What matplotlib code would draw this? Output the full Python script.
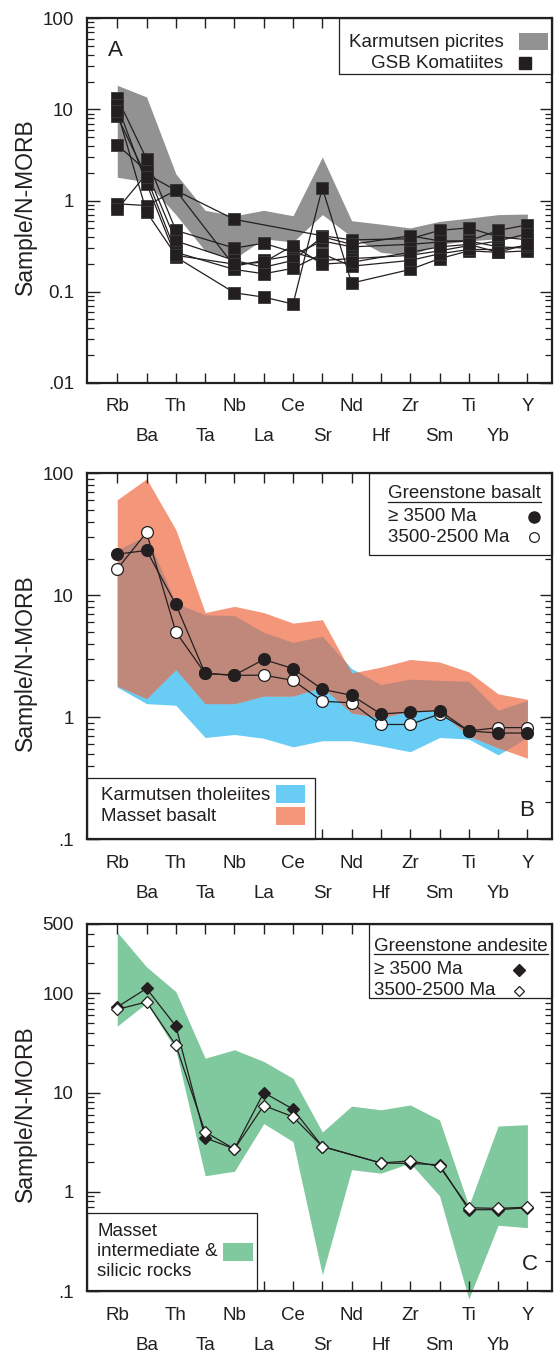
import numpy as np
import matplotlib
matplotlib.use('Agg')
import matplotlib.pyplot as plt
from matplotlib.patches import Rectangle
from matplotlib.lines import Line2D
from matplotlib.ticker import LogLocator, FixedLocator, NullFormatter

plt.rcParams['font.family'] = ['Liberation Sans', 'DejaVu Sans']

# ---------------- data ----------------
elements = ['Rb', 'Ba', 'Th', 'Ta', 'Nb', 'La', 'Ce', 'Sr', 'Nd', 'Hf', 'Zr', 'Sm', 'Ti', 'Yb', 'Y']
nan = np.nan

# Panel A
picrite_upper = [18.4, 13.7, 1.96, 0.78, 0.68, 0.78, 0.68, 3.0, 0.60, 0.55, 0.50, 0.59, 0.64, 0.70, 0.71]
picrite_lower = [1.8, 1.6, 0.70, 0.28, 0.23, 0.38, 0.35, 0.70, 0.40, 0.27, 0.25, 0.33, 0.36, 0.38, 0.40]
komatiite_1 = [0.92, 0.88, 1.29, nan, 0.62, nan, nan, 0.41, 0.37, nan, 0.38, 0.47, 0.50, 0.40, 0.37]
komatiite_2 = [0.80, 1.96, 1.29, nan, 0.19, 0.22, 0.25, 0.36, 0.31, nan, 0.33, 0.35, 0.36, 0.47, 0.54]
komatiite_3 = [13.4, 2.86, 0.47, nan, 0.30, 0.34, 0.27, 0.22, 0.23, nan, 0.25, 0.28, 0.32, 0.36, 0.43]
komatiite_4 = [4.1, 2.1, 0.36, nan, 0.22, 0.185, 0.22, 0.40, 0.33, nan, 0.41, 0.36, 0.36, 0.31, 0.30]
komatiite_5 = [11.1, 1.53, 0.24, nan, 0.097, 0.087, 0.073, 1.38, 0.124, nan, 0.175, 0.23, 0.28, 0.27, 0.28]
komatiite_6 = [8.4, 1.8, 0.27, nan, 0.175, 0.157, 0.18, 0.26, 0.19, nan, 0.22, 0.26, 0.29, 0.29, 0.32]
komatiite_7 = [9.5, 0.75, 0.25, nan, 0.20, 0.21, 0.32, 0.20, 0.21, nan, 0.27, 0.31, 0.33, 0.27, 0.33]

# Panel B
tholeiite_upper = [23.5, 31.0, 8.6, 6.9, 6.8, 4.95, 4.1, 4.6, 2.5, 1.85, 2.05, 2.0, 1.97, 1.14, 1.37]
tholeiite_lower = [1.76, 1.29, 1.25, 0.68, 0.72, 0.67, 0.57, 0.64, 0.64, 0.58, 0.52, 0.68, 0.66, 0.49, 0.68]
masset_basalt_upper = [60.7, 90.0, 34.5, 7.2, 8.1, 7.2, 5.9, 6.3, 2.3, 2.57, 2.97, 2.83, 2.35, 1.55, 1.40]
masset_basalt_lower = [1.8, 1.42, 2.46, 1.29, 1.29, 1.49, 1.49, 1.76, 1.08, 0.99, 1.12, 1.12, 0.70, 0.56, 0.46]
basalt_old = [21.7, 23.3, 8.4, 2.28, 2.21, 2.97, 2.5, 1.69, 1.51, 1.06, 1.10, 1.13, 0.77, 0.74, 0.74]
basalt_young = [16.4, 32.7, 5.0, 2.28, 2.2, 2.21, 2.0, 1.35, 1.31, 0.87, 0.87, 1.06, 0.77, 0.82, 0.82]

# Panel C
masset_int_upper = [413, 185, 104, 22.2, 27, 20.6, 13.9, 4.0, 7.3, 6.7, 7.5, 5.3, 0.72, 4.6, 4.75]
masset_int_lower = [46.7, 80, 27, 1.45, 1.61, 4.87, 3.2, 0.146, 1.67, 1.54, 1.95, 0.91, 0.083, 0.46, 0.435]
andesite_old = [72.8, 112, 46.7, 3.5, 2.7, 10.0, 6.8, 2.86, nan, 1.95, 1.93, 1.87, 0.66, 0.66, 0.69]
andesite_young = [68.8, 82, 30, 4.0, 2.7, 7.4, 5.7, 2.86, nan, 1.95, 2.05, 1.80, 0.69, 0.68, 0.70]

# ---------------- styling ----------------
W, H = 554, 1355
fig = plt.figure(figsize=(W / 100, H / 100), dpi=100)
INK = '#231f20'
GRAY = '#929292'
BLUE = '#68ccf4'
SALMON = '#f4967a'
BROWN = '#c0887a'
GREEN = '#80c89d'
FS = 13.5

def fx(x):
    return x / W

def fy(y):
    return 1 - y / H

xpos = np.arange(len(elements))

def make_axes(top, bottom, ylim, yticks, ylabels):
    ax = fig.add_axes([fx(86.5), fy(bottom), fx(552) - fx(86.5), (bottom - top) / H])
    ax.set_yscale('log')
    ax.set_ylim(*ylim)
    ax.set_xlim(-1.05, 14.84)
    ax.xaxis.set_major_locator(FixedLocator(xpos))
    ax.xaxis.set_ticklabels([])
    ax.yaxis.set_major_locator(FixedLocator(yticks))
    ax.yaxis.set_ticklabels(ylabels)
    ax.yaxis.set_minor_locator(LogLocator(base=10, subs=np.arange(2, 10)))
    ax.yaxis.set_minor_formatter(NullFormatter())
    ax.tick_params(axis='x', which='both', direction='in', top=True, bottom=True,
                   length=7.5, width=1.0, color=INK)
    ax.tick_params(axis='y', which='major', direction='in', left=True, right=True,
                   length=9, width=1.0, pad=9, labelsize=FS, labelcolor=INK, color=INK)
    ax.tick_params(axis='y', which='minor', direction='in', left=True, right=True,
                   length=5, width=0.9, color=INK)
    for s in ax.spines.values():
        s.set_linewidth(1.6)
        s.set_color(INK)
    for i, el in enumerate(elements):
        off = -24 if i % 2 == 0 else -54
        ax.annotate(el, xy=(i, 0), xycoords=('data', 'axes fraction'),
                    xytext=(0, off * 0.72), textcoords='offset points',
                    ha='center', va='center', fontsize=FS, color=INK,
                    annotation_clip=False)
    fig.text(fx(25), fy((top + bottom) / 2 + 6.5), 'Sample/N-MORB', rotation=90,
             ha='center', va='center', fontsize=16.5, color=INK)
    return ax

def box(ax, x0, y0, x1, y1):
    ax.add_patch(Rectangle((fx(x0), fy(y1)), fx(x1) - fx(x0), (y1 - y0) / H,
                           transform=fig.transFigure, facecolor='white', edgecolor=INK,
                           linewidth=0.9, zorder=2.2, clip_on=False))

def swatch(ax, x0, y0, x1, y1, color):
    ax.add_patch(Rectangle((fx(x0), fy(y1)), fx(x1) - fx(x0), (y1 - y0) / H,
                           transform=fig.transFigure, facecolor=color, edgecolor='none',
                           zorder=3, clip_on=False))

def label(ax, x, y, s, ha='left', size=FS):
    return ax.text(fx(x), fy(y), s, transform=fig.transFigure, ha=ha, va='center',
                   fontsize=size, color=INK, zorder=3)

def legmarker(ax, x, y, **kw):
    ax.add_line(Line2D([fx(x)], [fy(y)], transform=fig.transFigure, zorder=3,
                       clip_on=False, linestyle='none', **kw))

def series(ax, vals, **kw):
    v = np.asarray(vals, dtype=float)
    m = ~np.isnan(v)
    ax.plot(xpos[m], v[m], **kw)

xg = np.linspace(0, len(elements) - 1, 2801)

def logi(v):
    return 10 ** np.interp(xg, xpos, np.log10(v))

underlines = []

# ---------------- Panel A ----------------
axA = make_axes(18.3, 382.7, (0.01, 100), [0.01, 0.1, 1, 10, 100],
                ['.01', '0.1', '1', '10', '100'])
axA.fill_between(xpos, picrite_lower, picrite_upper, color=GRAY, lw=0, zorder=1)
for k in [komatiite_1, komatiite_2, komatiite_3, komatiite_4, komatiite_5,
          komatiite_6, komatiite_7]:
    series(axA, k, color=INK, lw=0.9, marker='s', ms=8.5, mfc=INK, mec='#3a3a3a',
           mew=0.6, zorder=4)
label(axA, 115.5, 50, 'A', ha='center', size=16)
box(axA, 339, 18.3, 552, 74)
label(axA, 503.5, 42.7, 'Karmutsen picrites', ha='right')
label(axA, 503.5, 63.3, 'GSB Komatiites', ha='right')
swatch(axA, 518.7, 33, 547.7, 50, GRAY)
legmarker(axA, 524.5, 63.3, marker='s', ms=8, mfc=INK, mec=INK)

# ---------------- Panel B ----------------
axB = make_axes(473.3, 839, (0.1, 100), [0.1, 1, 10, 100], ['.1', '1', '10', '100'])
axB.fill_between(xpos, tholeiite_lower, tholeiite_upper, color=BLUE, lw=0, zorder=1)
axB.fill_between(xpos, masset_basalt_lower, masset_basalt_upper, color=SALMON, lw=0, zorder=1.1)
lo = np.maximum(logi(tholeiite_lower), logi(masset_basalt_lower))
hi = np.minimum(logi(tholeiite_upper), logi(masset_basalt_upper))
axB.fill_between(xg, lo, hi, where=hi > lo, color=BROWN, lw=0, zorder=1.2, interpolate=True)
series(axB, basalt_young, color=INK, lw=0.9, marker='o', ms=8.5, mfc='white', mec=INK,
       mew=0.9, zorder=4)
series(axB, basalt_old, color=INK, lw=0.9, marker='o', ms=8.5, mfc=INK, mec=INK,
       mew=0.9, zorder=5)
label(axB, 526.5, 810, 'B', ha='center', size=16)
box(axB, 369, 473.3, 552, 555)
underlines.append((label(axB, 388, 493.3, 'Greenstone basalt'), 501.7))
label(axB, 388, 516.7, '\u2265 3500 Ma')
label(axB, 388, 537.3, '3500-2500 Ma')
legmarker(axB, 533.6, 516.7, marker='o', ms=8, mfc=INK, mec=INK)
legmarker(axB, 533.6, 537.3, marker='o', ms=7, mfc='white', mec=INK, mew=0.9)
box(axB, 86.5, 778.3, 314.5, 839)
label(axB, 100.7, 796, 'Karmutsen tholeiites')
label(axB, 100.7, 816.7, 'Masset basalt')
swatch(axB, 275.6, 785, 304.6, 803.3, BLUE)
swatch(axB, 275.6, 806.7, 304.6, 825, SALMON)

# ---------------- Panel C ----------------
axC = make_axes(924, 1291, (0.1, 500), [0.1, 1, 10, 100, 500],
                ['.1', '1', '10', '100', '500'])
axC.fill_between(xpos, masset_int_lower, masset_int_upper, color=GREEN, lw=0, zorder=1,
                 clip_on=False)
series(axC, andesite_old, color=INK, lw=0.9, marker='D', ms=6.2, mfc=INK, mec=INK,
       mew=0.9, zorder=4)
series(axC, andesite_young, color=INK, lw=0.9, marker='D', ms=6.2, mfc='white', mec=INK,
       mew=0.9, zorder=5)
label(axC, 530, 1265, 'C', ha='center', size=16)
box(axC, 368.6, 924, 552, 998.3)
underlines.append((label(axC, 373.9, 946.7, 'Greenstone andesite'), 954))
label(axC, 373.9, 970, '\u2265 3500 Ma')
label(axC, 373.9, 990.7, '3500-2500 Ma')
legmarker(axC, 519.4, 970, marker='D', ms=6, mfc=INK, mec=INK)
legmarker(axC, 519.4, 990.7, marker='D', ms=5.5, mfc='white', mec=INK, mew=0.9)
box(axC, 86.5, 1213.3, 256.9, 1291)
label(axC, 97.2, 1231, 'Masset')
label(axC, 97.2, 1251.7, 'intermediate &')
label(axC, 97.2, 1271.7, 'silicic rocks')
swatch(axC, 223.3, 1243.3, 252.7, 1260.7, GREEN)

# underline the legend titles
fig.canvas.draw()
for t, yl in underlines:
    bb = t.get_window_extent()
    t.axes.add_line(Line2D([bb.x0 / fig.bbox.width, bb.x1 / fig.bbox.width], [fy(yl), fy(yl)],
                           transform=fig.transFigure, color=INK, lw=0.9, zorder=3,
                           clip_on=False))

fig.savefig('out.png', dpi=100)
